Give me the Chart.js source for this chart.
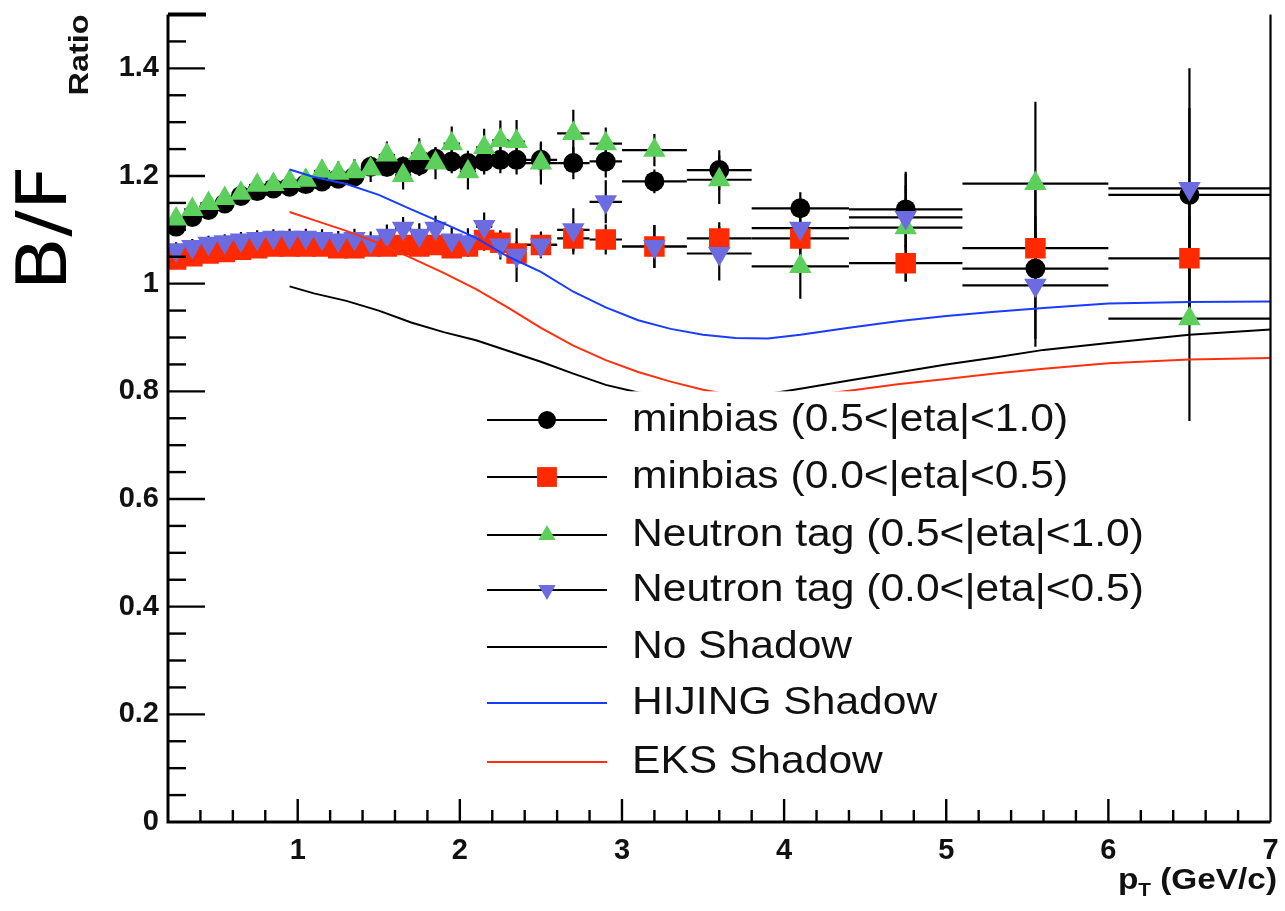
<!DOCTYPE html>
<html>
<head>
<meta charset="utf-8">
<script src="https://cdn.jsdelivr.net/npm/chart.js@4.4.0/dist/chart.umd.min.js"></script>
<style>
  html, body { margin: 0; padding: 0; background: #fff; }
  #wrap { width: 1285px; height: 911px; }
</style>
</head>
<body>
<div id="wrap"><canvas id="ratioChart" width="1285" height="911"></canvas></div>
<script>
// p_T bin centres and half widths (GeV/c)
const ptCenters = [0.25, 0.35, 0.45, 0.55, 0.65, 0.75, 0.85, 0.95, 1.05, 1.15, 1.25, 1.35, 1.45, 1.55, 1.65,
  1.75, 1.85, 1.95, 2.05, 2.15, 2.25, 2.35, 2.5, 2.7, 2.9, 3.2, 3.6, 4.1, 4.75, 5.55, 6.5];
const ptHalfWidth = [0.05, 0.05, 0.05, 0.05, 0.05, 0.05, 0.05, 0.05, 0.05, 0.05, 0.05, 0.05, 0.05, 0.05, 0.05,
  0.05, 0.05, 0.05, 0.05, 0.05, 0.05, 0.05, 0.1, 0.1, 0.1, 0.2, 0.2, 0.3, 0.35, 0.45, 0.5];

// minbias (0.5<|eta|<1.0)
const minbiasFwd = [1.106, 1.124, 1.137, 1.149, 1.163, 1.172, 1.177, 1.180, 1.185, 1.190, 1.195, 1.199, 1.217, 1.217, 1.217,
  1.220, 1.232, 1.227, 1.224, 1.227, 1.230, 1.230, 1.230, 1.224, 1.227, 1.190, 1.211, 1.140, 1.138, 1.028, 1.165];
const minbiasFwdErr = [0.012, 0.012, 0.012, 0.012, 0.013, 0.013, 0.013, 0.014, 0.014, 0.015, 0.015, 0.016, 0.017, 0.018, 0.019,
  0.02, 0.021, 0.022, 0.023, 0.024, 0.025, 0.027, 0.03, 0.03, 0.03, 0.022, 0.037, 0.03, 0.07, 0.145, 0.235];

// minbias (0.0<|eta|<0.5)
const minbiasCen = [1.045, 1.051, 1.056, 1.059, 1.063, 1.066, 1.069, 1.069, 1.069, 1.069, 1.066, 1.066, 1.069, 1.069, 1.072,
  1.069, 1.072, 1.066, 1.069, 1.081, 1.076, 1.056, 1.072, 1.084, 1.082, 1.069, 1.084, 1.084, 1.038, 1.066, 1.047];
const minbiasCenErr = [0.012, 0.012, 0.012, 0.012, 0.012, 0.012, 0.013, 0.013, 0.013, 0.013, 0.014, 0.014, 0.015, 0.015, 0.016,
  0.016, 0.017, 0.018, 0.019, 0.02, 0.021, 0.022, 0.02, 0.03, 0.028, 0.04, 0.03, 0.03, 0.034, 0.06, 0.1];

// Neutron tag (0.5<|eta|<1.0)
const tagFwd = [1.120, 1.138, 1.149, 1.158, 1.168, 1.183, 1.184, 1.190, 1.192, 1.209, 1.205, 1.208, 1.213, 1.239, 1.201,
  1.242, 1.224, 1.260, 1.208, 1.253, 1.266, 1.264, 1.224, 1.279, 1.260, 1.248, 1.193, 1.032, 1.104, 1.186, 0.935];
const tagFwdErr = [0.018, 0.018, 0.018, 0.018, 0.019, 0.019, 0.02, 0.02, 0.021, 0.021, 0.022, 0.023, 0.024, 0.025, 0.026,
  0.028, 0.03, 0.032, 0.033, 0.035, 0.037, 0.04, 0.04, 0.044, 0.03, 0.03, 0.045, 0.06, 0.1, 0.152, 0.19];

// Neutron tag (0.0<|eta|<0.5)
const tagCen = [1.063, 1.069, 1.075, 1.078, 1.081, 1.084, 1.086, 1.086, 1.086, 1.084, 1.081, 1.084, 1.078, 1.090, 1.103,
  1.090, 1.103, 1.081, 1.078, 1.106, 1.072, 1.053, 1.072, 1.100, 1.152, 1.069, 1.056, 1.103, 1.123, 0.997, 1.177];
const tagCenErr = [0.014, 0.014, 0.014, 0.014, 0.015, 0.015, 0.015, 0.016, 0.016, 0.017, 0.017, 0.018, 0.019, 0.02, 0.021,
  0.022, 0.023, 0.024, 0.025, 0.026, 0.027, 0.05, 0.025, 0.04, 0.04, 0.04, 0.05, 0.04, 0.06, 0.1, 0.15];

// model curves
const modelPt = [0.95, 1.1, 1.3, 1.5, 1.7, 1.9, 2.1, 2.3, 2.5, 2.7, 2.9, 3.1, 3.3, 3.5, 3.7, 3.9, 4.1, 4.4, 4.7, 5.0,
  5.3, 5.6, 6.0, 6.5, 7.0];
const noShadow = [0.995, 0.982, 0.968, 0.950, 0.928, 0.910, 0.895, 0.875, 0.855, 0.833, 0.812, 0.798, 0.788, 0.782, 0.785,
  0.795, 0.805, 0.820, 0.835, 0.850, 0.863, 0.877, 0.890, 0.905, 0.915];
const hijingShadow = [1.212, 1.198, 1.185, 1.165, 1.138, 1.112, 1.085, 1.050, 1.022, 0.985, 0.956, 0.932, 0.916, 0.905, 0.899,
  0.898, 0.905, 0.918, 0.930, 0.940, 0.948, 0.955, 0.963, 0.966, 0.967];
const eksShadow = [1.133, 1.118, 1.098, 1.075, 1.048, 1.020, 0.990, 0.955, 0.918, 0.885, 0.858, 0.836, 0.818, 0.803, 0.792,
  0.787, 0.790, 0.801, 0.813, 0.823, 0.833, 0.842, 0.852, 0.859, 0.862];

// axis tick labels
const xTicks = [1, 2, 3, 4, 5, 6, 7];
const yTicks = [0, 0.2, 0.4, 0.6, 0.8, 1, 1.2, 1.4];

const GREEN = '#5ccf5c';
const PURPLE = '#6c6ce0';
const RED = '#ff2a00';
const BLUE = '#1a3cff';
const LINE_RED = '#ff3010';

function pts(xs, ys) {
  return xs.map((x, i) => ({ x: x, y: ys[i] }));
}

// draw text squeezed/stretched along its direction (the original plot is a bit wide)
function wideText(ctx, text, x, y, sx, align) {
  ctx.save();
  ctx.translate(x, y);
  ctx.scale(sx, 1);
  ctx.textAlign = align || 'left';
  ctx.fillText(text, 0, 0);
  ctx.restore();
}

// Error bars (x = bin width, y = stat error), drawn under the markers
const errorBarPlugin = {
  id: 'errorBars',
  beforeDatasetsDraw(chart) {
    const ctx = chart.ctx;
    const xs = chart.scales.x, ys = chart.scales.y;
    const area = chart.chartArea;
    ctx.save();
    ctx.beginPath();
    ctx.rect(area.left, area.top, area.right - area.left, area.bottom - area.top);
    ctx.clip();
    ctx.strokeStyle = '#000';
    ctx.lineWidth = 2.2;
    chart.data.datasets.slice().reverse().forEach(ds => {
      if (!ds.errY) return;
      ds.data.forEach((p, i) => {
        const px = xs.getPixelForValue(p.x);
        const py = ys.getPixelForValue(p.y);
        const x0 = xs.getPixelForValue(p.x - ptHalfWidth[i]);
        const x1 = xs.getPixelForValue(p.x + ptHalfWidth[i]);
        const y0 = ys.getPixelForValue(p.y - ds.errY[i]);
        const y1 = ys.getPixelForValue(p.y + ds.errY[i]);
        ctx.beginPath();
        ctx.moveTo(x0, py); ctx.lineTo(x1, py);
        ctx.moveTo(px, y0); ctx.lineTo(px, y1);
        ctx.stroke();
      });
    });
    ctx.restore();
  }
};

// Legend box inside the frame (white fill hides the curves behind it)
const legendPlugin = {
  id: 'boxLegend',
  afterDatasetsDraw(chart) {
    const ctx = chart.ctx;
    const top = chart.scales.y.getPixelForValue(0.8);
    ctx.save();
    ctx.fillStyle = '#fff';
    ctx.fillRect(478, top, 682, 795 - top);

    const rows = [
      { text: 'minbias (0.5<|eta|<1.0)', style: 'circle', color: '#000', r: 9 },
      { text: 'minbias (0.0<|eta|<0.5)', style: 'rect', color: RED, r: 14 },
      { text: 'Neutron tag (0.5<|eta|<1.0)', style: 'triangle', color: GREEN, r: 10 },
      { text: 'Neutron tag (0.0<|eta|<0.5)', style: 'triangle', color: PURPLE, r: 10, rot: 180 },
      { text: 'No Shadow', line: '#000' },
      { text: 'HIJING Shadow', line: BLUE },
      { text: 'EKS Shadow', line: LINE_RED }
    ];
    const rowY = [420, 477, 535, 590, 647, 703, 762];
    rows.forEach((row, i) => {
      const y = rowY[i];
      ctx.strokeStyle = row.line || '#000';
      ctx.lineWidth = 2.2;
      ctx.beginPath();
      ctx.moveTo(487, y); ctx.lineTo(607, y);
      ctx.stroke();
      if (row.style) {
        ctx.fillStyle = row.color;
        ctx.strokeStyle = row.color;
        Chart.helpers.drawPoint(ctx, {
          pointStyle: row.style, radius: row.r, rotation: row.rot || 0, borderWidth: 0
        }, 547, y);
      }
      ctx.fillStyle = '#111';
      ctx.font = '38px "Liberation Sans", Arial, sans-serif';
      ctx.textBaseline = 'middle';
      wideText(ctx, row.text, 632, y + 1, 1.12, 'left');
    });
    ctx.restore();
  }
};

// ROOT-like frame: inside ticks, axis titles
const framePlugin = {
  id: 'rootFrame',
  afterDraw(chart) {
    const ctx = chart.ctx;
    const xs = chart.scales.x, ys = chart.scales.y;
    const a = chart.chartArea;
    ctx.save();
    ctx.strokeStyle = '#000';

    // y ticks: major every 0.2, minor every 0.05
    ctx.lineWidth = 2.4;
    for (let k = 1; k < 30; k++) {
      const v = k * 0.05;
      const py = ys.getPixelForValue(v);
      const len = (k % 4 === 0) ? 37 : 18;
      ctx.beginPath();
      ctx.moveTo(a.left, py); ctx.lineTo(a.left + len, py);
      ctx.stroke();
    }
    // x ticks: major every 1, minor every 0.2
    for (let k = 2; k < 35; k++) {
      const v = k * 0.2;
      const px = xs.getPixelForValue(v);
      const len = (k % 5 === 0) ? 23 : 12;
      ctx.beginPath();
      ctx.moveTo(px, a.bottom); ctx.lineTo(px, a.bottom - len);
      ctx.stroke();
    }

    // axes / frame
    ctx.lineWidth = 3;
    ctx.beginPath();
    ctx.moveTo(a.left, a.top); ctx.lineTo(a.left, a.bottom); ctx.lineTo(a.right, a.bottom);
    ctx.stroke();
    ctx.lineWidth = 2.2;
    ctx.beginPath();
    ctx.moveTo(a.right, a.top); ctx.lineTo(a.right, a.bottom);
    ctx.stroke();
    ctx.lineWidth = 4;
    ctx.beginPath();
    ctx.moveTo(a.left, a.top); ctx.lineTo(a.left + 38, a.top);
    ctx.stroke();

    // x axis title: p_T (GeV/c)
    ctx.fillStyle = '#111';
    ctx.textBaseline = 'alphabetic';
    const big = 'bold 29px "Liberation Sans", Arial, sans-serif';
    const small = 'bold 18px "Liberation Sans", Arial, sans-serif';
    const sx = 1.15;
    ctx.font = big;
    const wRest = ctx.measureText(' (GeV/c)').width * sx;
    const wP = ctx.measureText('p').width * sx;
    ctx.font = small;
    const wT = ctx.measureText('T').width * sx;
    const right = 1277, base = 889;
    const xStart = right - wRest - wT - wP;
    ctx.font = big;
    wideText(ctx, 'p', xStart, base, sx, 'left');
    ctx.font = small;
    wideText(ctx, 'T', xStart + wP, base + 7, sx, 'left');
    ctx.font = big;
    wideText(ctx, ' (GeV/c)', xStart + wP + wT, base, sx, 'left');

    // y axis title "Ratio"
    ctx.save();
    ctx.translate(88, 55);
    ctx.rotate(-Math.PI / 2);
    ctx.font = 'bold 27px "Liberation Sans", Arial, sans-serif';
    ctx.textBaseline = 'alphabetic';
    wideText(ctx, 'Ratio', 0, 0, 1.2, 'center');
    ctx.restore();

    // big hand-written style "B/F"
    ctx.save();
    ctx.translate(66, 228);
    ctx.rotate(-Math.PI / 2);
    ctx.fillStyle = '#000';
    ctx.font = '70px "DejaVu Sans", sans-serif';
    ctx.textBaseline = 'alphabetic';
    wideText(ctx, 'B/F', 0, 0, 1.12, 'center');
    ctx.restore();

    ctx.restore();
  }
};

const dataStyle = {
  showLine: false,
  borderWidth: 0,
  pointBorderWidth: 0,
  pointHoverRadius: 0
};

const ctx = document.getElementById('ratioChart');
new Chart(ctx, {
  type: 'scatter',
  data: {
    datasets: [
      { label: 'No Shadow', data: pts(modelPt, noShadow), showLine: true, pointRadius: 0,
        borderColor: '#000', borderWidth: 2, order: 1 },
      { label: 'HIJING Shadow', data: pts(modelPt, hijingShadow), showLine: true, pointRadius: 0,
        borderColor: BLUE, borderWidth: 2, order: 1 },
      { label: 'EKS Shadow', data: pts(modelPt, eksShadow), showLine: true, pointRadius: 0,
        borderColor: LINE_RED, borderWidth: 2, order: 1 },
      Object.assign({ label: 'Neutron tag (0.0<|eta|<0.5)', data: pts(ptCenters, tagCen), errY: tagCenErr,
        pointStyle: 'triangle', pointRotation: 180, pointRadius: 13, backgroundColor: PURPLE, borderColor: PURPLE, order: 2 }, dataStyle),
      Object.assign({ label: 'Neutron tag (0.5<|eta|<1.0)', data: pts(ptCenters, tagFwd), errY: tagFwdErr,
        pointStyle: 'triangle', pointRadius: 13, backgroundColor: GREEN, borderColor: GREEN, order: 3 }, dataStyle),
      Object.assign({ label: 'minbias (0.0<|eta|<0.5)', data: pts(ptCenters, minbiasCen), errY: minbiasCenErr,
        pointStyle: 'rect', pointRadius: 14.5, backgroundColor: RED, borderColor: RED, order: 4 }, dataStyle),
      Object.assign({ label: 'minbias (0.5<|eta|<1.0)', data: pts(ptCenters, minbiasFwd), errY: minbiasFwdErr,
        pointStyle: 'circle', pointRadius: 10, backgroundColor: '#000', borderColor: '#000', order: 5 }, dataStyle)
    ]
  },
  options: {
    responsive: false,
    animation: false,
    events: [],
    layout: { padding: { top: 10, right: 5, left: 0, bottom: 0 } },
    plugins: {
      legend: { display: false },
      tooltip: { enabled: false }
    },
    scales: {
      x: {
        type: 'linear',
        min: 0.2,
        max: 7,
        grid: { display: false, drawTicks: false },
        border: { display: false },
        afterBuildTicks: (scale) => { scale.ticks = xTicks.map(v => ({ value: v })); },
        afterFit: (scale) => {
          scale.height = 89;
          scale.paddingLeft = 0;
          scale.paddingRight = 0;
        },
        ticks: {
          color: '#111',
          padding: 12,
          maxRotation: 0,
          font: { family: '"Liberation Sans", Arial, sans-serif', size: 29, weight: 'bold' },
          callback: (v) => String(v)
        }
      },
      y: {
        type: 'linear',
        min: 0,
        max: 1.5,
        grid: { display: false, drawTicks: false },
        border: { display: false },
        afterBuildTicks: (scale) => { scale.ticks = yTicks.map(v => ({ value: v })); },
        afterFit: (scale) => {
          scale.width = 168;
          scale.paddingTop = 0;
          scale.paddingBottom = 0;
        },
        ticks: {
          color: '#111',
          padding: 9,
          font: { family: '"Liberation Sans", Arial, sans-serif', size: 29, weight: 'bold' },
          callback: (v) => String(+Number(v).toFixed(1))
        }
      }
    }
  },
  plugins: [errorBarPlugin, legendPlugin, framePlugin]
});
</script>
</body>
</html>
